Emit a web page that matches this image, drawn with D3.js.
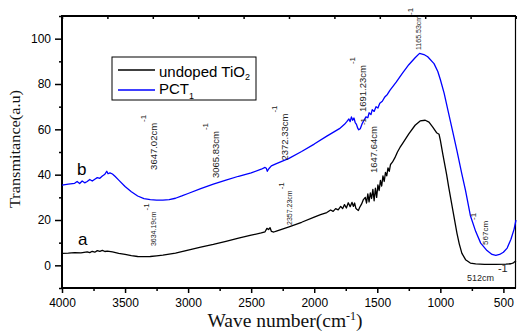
<!DOCTYPE html>
<html lang="en">
<head>
<meta charset="utf-8">
<title>FTIR spectra: undoped TiO2 and PCT1</title>
<script src="https://cdn.jsdelivr.net/npm/d3@7"></script>
<style>
  body { margin: 0; background: #fff; }
  svg { display: block; font-family: "Liberation Sans", Arial, sans-serif; }
  .tick text { font-size: 12px; fill: #000; font-family: "Liberation Sans", Arial, sans-serif; }
  .tick line { stroke: #000; stroke-width: 1.5; }
  .peak { font-family: "Liberation Sans Narrow", "Liberation Sans", Arial, sans-serif; fill: #222; }
  .title { font-family: "Liberation Serif", "Times New Roman", serif; fill: #111; }
</style>
</head>
<body>
<div id="chart"></div>
<script>

const w = 517;
const h = 335;

// tick labels
const xTicks = [4000, 3500, 3000, 2500, 2000, 1500, 1000, 500];
const yTicks = [0, 20, 40, 60, 80, 100];

// curve a : undoped TiO2 (black)
const waveA = [4000, 3950, 3900, 3850, 3800, 3780, 3760, 3740, 3720, 3700, 3680, 3660, 3640, 3600, 3550,
  3500, 3450, 3400, 3350, 3300, 3250, 3200, 3100, 3000, 2900, 2800, 2700, 2600, 2500, 2420, 2390, 2375,
  2362, 2350, 2340, 2320, 2300, 2200, 2100, 2000, 1950, 1900, 1870, 1850, 1830, 1810, 1790, 1775, 1760,
  1745, 1730, 1715, 1700, 1690, 1680, 1670, 1660, 1650, 1640, 1625, 1610, 1595, 1585, 1575, 1565, 1555,
  1545, 1535, 1525, 1515, 1505, 1495, 1485, 1475, 1465, 1455, 1445, 1435, 1425, 1415, 1405, 1395, 1380,
  1360, 1340, 1320, 1300, 1250, 1200, 1160, 1120, 1090, 1060, 1030, 1010, 1000, 980, 950, 934, 900, 868,
  850, 829, 800, 762, 720, 650, 560, 480, 440, 420, 400];
const transA = [5.3, 5.4, 5.6, 5.5, 5.9, 5.6, 6.2, 5.8, 6.5, 6.2, 6.6, 6.1, 6.3, 5.9, 5.3,
  4.8, 4.3, 3.9, 3.8, 3.9, 4.2, 4.5, 5.4, 6.7, 8.0, 9.2, 10.6, 12.0, 13.3, 14.3, 14.8, 16.3,
  15.8, 16.6, 15.0, 14.7, 15.1, 17.0, 19.0, 21.3, 22.4, 23.3, 24.4, 23.8, 25.0, 24.5, 26.0, 25.0, 26.8,
  25.3, 27.6, 25.9, 27.8, 26.0, 27.5, 25.2, 24.6, 24.2, 25.5, 27.0, 29.0, 30.0, 27.5, 31.5, 28.0, 32.0,
  29.5, 33.5, 28.5, 34.0, 30.0, 35.5, 33.0, 37.5, 35.0, 39.5, 37.0, 41.0, 39.5, 43.0, 41.5, 44.5, 45.5,
  47.5, 50.0, 52.0, 53.7, 58.0, 61.8, 63.7, 64.0, 63.2, 61.0, 58.5, 57.8, 55.2, 49.0, 40.0, 34.6, 24.0, 14.1,
  9.5, 5.3, 2.5, 1.0, 0.6, 0.4, 0.4, 0.5, 0.7, 1.1, 2.0];

// curve b : PCT1 (blue)
const waveB = [4000, 3950, 3900, 3880, 3860, 3840, 3820, 3800, 3780, 3760, 3740, 3720, 3700, 3680, 3660,
  3645, 3635, 3620, 3600, 3580, 3550, 3500, 3450, 3400, 3350, 3300, 3250, 3200, 3150, 3100, 3050, 3000,
  2900, 2800, 2700, 2600, 2500, 2420, 2390, 2380, 2372, 2360, 2340, 2300, 2200, 2100, 2000, 1900, 1800,
  1760, 1740, 1725, 1715, 1705, 1695, 1685, 1675, 1665, 1655, 1647, 1635, 1620, 1605, 1590, 1575, 1565,
  1550, 1540, 1525, 1510, 1495, 1480, 1460, 1440, 1420, 1400, 1350, 1300, 1250, 1200, 1165, 1130, 1100,
  1050, 1020, 1000, 970, 940, 900, 868, 830, 800, 762, 720, 680, 630, 590, 560, 530, 500, 470, 440, 415, 400];
const transB = [35.4, 35.8, 36.2, 37.0, 36.1, 37.2, 36.4, 37.0, 37.9, 37.2, 38.0, 38.7, 38.4, 39.4, 40.2,
  41.5, 40.4, 40.8, 40.3, 39.3, 37.6, 34.8, 32.5, 30.6, 29.4, 29.0, 28.8, 28.8, 29.0, 29.6, 30.6, 31.7,
  33.8, 35.8, 37.6, 39.3, 40.8, 42.4, 43.2, 42.8, 41.5, 42.6, 43.9, 44.9, 47.2, 50.2, 53.5, 57.0, 60.3,
  62.2, 63.5, 64.6, 63.4, 65.5, 64.0, 65.0, 63.0, 62.2, 60.5, 59.8, 60.3, 62.5, 64.0, 65.5, 65.1, 67.3,
  66.5, 68.7, 67.9, 70.0, 69.4, 71.5, 72.4, 74.3, 75.4, 77.2, 80.8, 84.8, 88.5, 91.6, 93.5, 93.0, 92.0,
  89.0, 85.5, 82.0, 76.0, 68.5, 58.5, 50.5, 40.5, 33.0, 22.0, 15.0, 9.8, 6.5, 4.8, 4.4, 4.8, 5.8, 7.6, 11.5, 16.0, 20.0];

// peak annotations, anchored in data space (wave number, transmittance)
const peaks = [
  { label: "3647.02cm", wn: 3243, t: 42.1, fs: 9.5, sup: 11 },
  { label: "3065.83cm", wn: 2759, t: 38.5, fs: 9.5, sup: 11 },
  { label: "2372.33cm", wn: 2204, t: 46.2, fs: 9.5, sup: 11 },
  { label: "1691.23cm", wn: 1593, t: 67.6, fs: 9.5, sup: 11 },
  { label: "1647.64cm", wn: 1506, t: 40.7, fs: 9.5, sup: 11 },
  { label: "1165.53cm", wn: 1157, t: 95.0, fs: 7, sup: 8 },
  { label: "3634.19cm", wn: 3255, t: 8.5, fs: 7, sup: 7 },
  { label: "2357.23cm", wn: 2180, t: 17.8, fs: 7, sup: 8 },
  { label: "567cm", wn: 622, t: 9.0, fs: 8, sup: 12 }
];

const margin = { top: 16, right: 1, bottom: 47, left: 62 };

const x = d3.scaleLinear().domain([4000, 400]).range([margin.left, w - margin.right]);
const y = d3.scaleLinear().domain([-10, 110]).range([h - margin.bottom, margin.top]);

const svg = d3.select("#chart").append("svg")
  .attr("width", w)
  .attr("height", h);

// minor ticks (unlabelled)
const xMinor = xTicks.map(d => d - 250).filter(d => d >= 400);
const yMinor = [-10, 10, 30, 50, 70, 90, 110];
const xTop = d3.range(0, 11).map(i => 4000 - i * 360);

svg.append("g")
  .attr("transform", `translate(0,${h - margin.bottom})`)
  .call(d3.axisBottom(x).tickValues(xMinor).tickSize(3).tickFormat(""))
  .call(g => g.select(".domain").remove());

svg.append("g")
  .attr("transform", `translate(0,${h - margin.bottom})`)
  .call(d3.axisBottom(x).tickValues(xTicks).tickSize(5).tickPadding(5).tickFormat(d3.format("d")))
  .call(g => g.select(".domain").remove());

svg.append("g")
  .attr("transform", `translate(${margin.left},0)`)
  .call(d3.axisLeft(y).tickValues(yMinor).tickSize(3).tickFormat(""))
  .call(g => g.select(".domain").remove());

svg.append("g")
  .attr("transform", `translate(${margin.left},0)`)
  .call(d3.axisLeft(y).tickValues(yTicks).tickSize(7).tickPadding(4))
  .call(g => g.select(".domain").remove());

svg.append("g")
  .attr("transform", `translate(0,${margin.top})`)
  .call(d3.axisBottom(x).tickValues(xTop).tickSize(3).tickFormat(""))
  .call(g => g.select(".domain").remove())
  .call(g => g.selectAll(".tick line").attr("stroke-width", 1));

// frame
const x0 = margin.left, x1 = w - margin.right, y0 = margin.top, y1 = h - margin.bottom;
svg.append("line").attr("x1", x0).attr("x2", x1).attr("y1", y0).attr("y2", y0)
  .attr("stroke", "#000").attr("stroke-width", 2);
svg.append("line").attr("x1", x0).attr("x2", x1).attr("y1", y1).attr("y2", y1)
  .attr("stroke", "#000").attr("stroke-width", 2);
svg.append("line").attr("x1", x0).attr("x2", x0).attr("y1", y0 - 1).attr("y2", y1 + 1)
  .attr("stroke", "#000").attr("stroke-width", 2);
svg.append("line").attr("x1", x1 - 0.5).attr("x2", x1 - 0.5).attr("y1", y0).attr("y2", y1)
  .attr("stroke", "#000").attr("stroke-width", 1.2);

// spectra
const line = d3.line()
  .x(d => x(d[0]))
  .y(d => y(d[1]));

svg.append("path")
  .datum(waveA.map((d, i) => [d, transA[i]]))
  .attr("fill", "none")
  .attr("stroke", "#000")
  .attr("stroke-width", 1.3)
  .attr("stroke-linejoin", "round")
  .attr("d", line);

svg.append("path")
  .datum(waveB.map((d, i) => [d, transB[i]]))
  .attr("fill", "none")
  .attr("stroke", "#0000ff")
  .attr("stroke-width", 1.3)
  .attr("stroke-linejoin", "round")
  .attr("d", line);

// rotated peak labels
peaks.forEach(p => {
  const t = svg.append("text")
    .attr("class", "peak")
    .attr("transform", `translate(${x(p.wn)},${y(p.t)}) rotate(-90)`)
    .attr("font-size", p.fs)
    .text(p.label);
  t.append("tspan")
    .attr("dy", -p.sup)
    .attr("dx", 1)
    .attr("font-size", 8)
    .text("-1");
});

// 512 cm-1 label (horizontal)
svg.append("text")
  .attr("class", "peak")
  .attr("x", x(789)).attr("y", y(-7))
  .attr("font-size", 9)
  .text("512cm");
svg.append("text")
  .attr("class", "peak")
  .attr("x", x(543)).attr("y", y(-3))
  .attr("font-size", 11)
  .text("-1");

// curve letters
svg.append("text").attr("x", x(3873)).attr("y", y(9.0))
  .attr("font-size", 17).text("a");
svg.append("text").attr("x", x(3881)).attr("y", y(39.8))
  .attr("font-size", 17).text("b");

// legend
const legend = svg.append("g").attr("transform", "translate(112,57)");
legend.append("rect")
  .attr("width", 144).attr("height", 43)
  .attr("fill", "#fff").attr("stroke", "#000").attr("stroke-width", 1);
legend.append("line").attr("x1", 6).attr("x2", 43).attr("y1", 13).attr("y2", 13)
  .attr("stroke", "#000").attr("stroke-width", 1.3);
legend.append("line").attr("x1", 6).attr("x2", 43).attr("y1", 33).attr("y2", 33)
  .attr("stroke", "#0000ff").attr("stroke-width", 1.3);
const l1 = legend.append("text").attr("x", 47).attr("y", 19.5).attr("font-size", 15).text("undoped TiO");
l1.append("tspan").attr("dy", 3).attr("font-size", 9).text("2");
const l2 = legend.append("text").attr("x", 47).attr("y", 37).attr("font-size", 15).text("PCT");
l2.append("tspan").attr("dy", 5).attr("font-size", 9).text("1");

// axis titles
svg.append("text")
  .attr("class", "title")
  .attr("transform", `translate(20,149) rotate(-90)`)
  .attr("text-anchor", "middle")
  .attr("font-size", 15)
  .attr("textLength", 118)
  .attr("lengthAdjust", "spacingAndGlyphs")
  .text("Transmitance(a.u)");

const xt = svg.append("text")
  .attr("class", "title")
  .attr("x", 285).attr("y", 327)
  .attr("text-anchor", "middle")
  .attr("font-size", 19.5)
  .text("Wave number(cm");
xt.append("tspan").attr("dy", -7).attr("font-size", 12).text("-1");
xt.append("tspan").attr("dy", 7).text(")");

</script>
</body>
</html>
